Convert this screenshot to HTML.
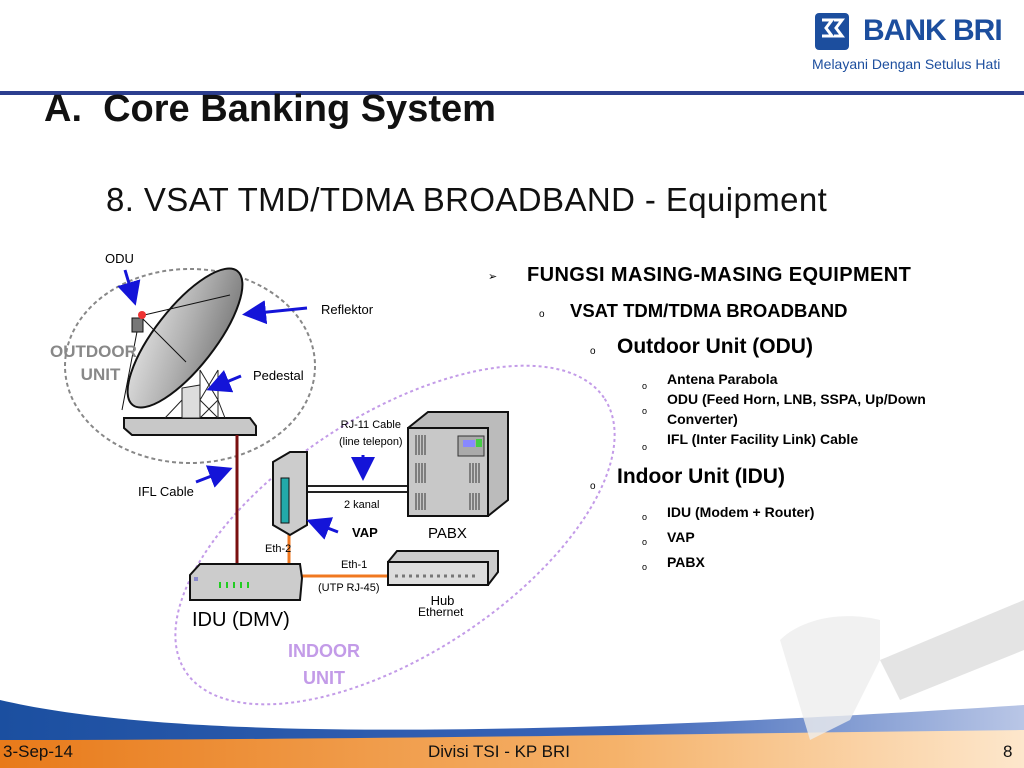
<!DOCTYPE html>
<html><head><meta charset="utf-8"><style>
body{margin:0;width:1024px;height:768px;overflow:hidden;background:#fff;font-family:"Liberation Sans",sans-serif;position:relative}
.t{position:absolute;white-space:nowrap}
.b{font-weight:bold}
</style></head><body>
<svg width="1024" height="768" style="position:absolute;left:0;top:0">
<defs>
<linearGradient id="dish" x1="0" y1="0" x2="1" y2="1"><stop offset="0" stop-color="#e8e8e8"/><stop offset="0.5" stop-color="#b0b0b0"/><stop offset="1" stop-color="#707070"/></linearGradient>
<linearGradient id="or" x1="0" y1="0" x2="1" y2="0"><stop offset="0" stop-color="#e87a1a"/><stop offset="0.6" stop-color="#f5b26a"/><stop offset="1" stop-color="#fde7cc"/></linearGradient>
<linearGradient id="bl" x1="0" y1="0" x2="1" y2="0"><stop offset="0" stop-color="#1b4fa0"/><stop offset="0.6" stop-color="#3a64b8"/><stop offset="1" stop-color="#b9c6e6"/></linearGradient>
<marker id="ah" markerWidth="8" markerHeight="8" refX="6" refY="4" orient="auto"><path d="M0,0L8,4L0,8z" fill="#1414d8"/></marker>
</defs>
<rect x="0" y="91" width="1024" height="4" fill="#2c3e8f"/>
<rect x="815" y="13" width="34" height="37" rx="4" fill="#1c4e9e"/>
<path d="M822,20 h10 l-6,8 l6,8 h-10 M834,20 h8 l-6,8 l6,8 h-8" stroke="#fff" stroke-width="3" fill="none"/>
<ellipse cx="190" cy="366" rx="125" ry="97" fill="none" stroke="#888" stroke-width="2" stroke-dasharray="4,3"/>
<ellipse cx="395" cy="535" rx="250" ry="120" transform="rotate(-33 395 535)" fill="none" stroke="#c39be8" stroke-width="2" stroke-dasharray="3,3"/>
<path d="M124,418 L250,418 L256,426 L256,435 L132,435 L124,428z" fill="#c8c8c8" stroke="#111" stroke-width="2"/>
<path d="M182,418 L182,388 L200,385 L200,418z" fill="#ddd" stroke="#222"/>
<path d="M200,370 L200,418 M218,370 L218,418 M200,370 L218,400 M218,370 L200,400 M200,400 L218,418 M218,400 L200,418 M165,418 L182,400 M225,418 L218,400" stroke="#222" fill="none"/>
<ellipse cx="185" cy="338" rx="85" ry="30" transform="rotate(-52 185 338)" fill="url(#dish)" stroke="#111" stroke-width="2"/>
<path d="M140,316 L230,295 M140,316 L186,362 M140,316 L122,410" stroke="#111" fill="none"/>
<rect x="132" y="318" width="11" height="14" fill="#777" stroke="#111"/>
<circle cx="142" cy="315" r="4" fill="#e33"/>
<line x1="237" y1="435" x2="237" y2="563" stroke="#7a1010" stroke-width="3"/>
<line x1="289" y1="530" x2="289" y2="565" stroke="#f07820" stroke-width="3"/>
<line x1="302" y1="576" x2="403" y2="576" stroke="#f07820" stroke-width="3"/>
<path d="M306,486 L408,486 M306,492 L408,492" stroke="#222" stroke-width="2"/>
<path d="M273,462 L290,452 L307,452 L307,525 L290,535 L273,525z" fill="#ccc" stroke="#111" stroke-width="2"/>
<rect x="281" y="478" width="8" height="45" fill="#2aa" stroke="#111"/>
<path d="M408,428 L428,412 L508,412 L508,500 L488,516 L408,516z" fill="#bbb" stroke="#111" stroke-width="2"/>
<rect x="408" y="428" width="80" height="88" fill="#c8c8c8" stroke="#111" stroke-width="2"/>
<rect x="458" y="436" width="26" height="20" fill="#aaa" stroke="#333"/>
<rect x="463" y="440" width="12" height="7" fill="#88f"/><rect x="476" y="439" width="6" height="8" fill="#4c4"/>
<g stroke="#333"><path d="M416,435v20M419,435v20M422,435v20M425,435v20M416,463v20M419,463v20M422,463v20M425,463v20M416,493v17M419,493v17M422,493v17M425,493v17M470,463v20M473,463v20M476,463v20M479,463v20M470,493v17M473,493v17M476,493v17M479,493v17"/></g>
<path d="M190,575 L200,564 L300,564 L302,578 L300,600 L190,600z" fill="#ccc" stroke="#111" stroke-width="2"/>
<rect x="194" y="577" width="4" height="4" fill="#88c"/>
<path d="M220,582v6M227,582v6M234,582v6M241,582v6M248,582v6" stroke="#2c2" stroke-width="2"/>
<path d="M388,562 L397,551 L498,551 L498,572 L488,585 L388,585z" fill="#ccc" stroke="#111" stroke-width="2"/>
<rect x="388" y="562" width="100" height="23" fill="#ddd" stroke="#111" stroke-width="2"/>
<path d="M395,576 h80" stroke="#777" stroke-width="3" stroke-dasharray="3,4"/>
<g stroke="#1414d8" stroke-width="3" marker-end="url(#ah)">
<line x1="125" y1="270" x2="134" y2="300"/>
<line x1="307" y1="308" x2="248" y2="314"/>
<line x1="241" y1="376" x2="212" y2="388"/>
<line x1="196" y1="482" x2="227" y2="470"/>
<line x1="363" y1="455" x2="363" y2="475"/>
<line x1="338" y1="532" x2="312" y2="522"/>
</g>
<path d="M0,700 C150,735 450,742 1024,705 L1024,768 L0,768z" fill="url(#bl)"/>
<path d="M0,740 C300,740 600,735 1024,730 L1024,768 L0,768z" fill="url(#or)"/>
<path d="M780,640 C800,620 840,610 880,620 L880,660 L850,720 L810,740 Z" fill="#eee" opacity="0.8"/>
<path d="M880,660 L1024,600 L1024,650 L900,700z" fill="#ddd" opacity="0.8"/>
</svg>
<div class="t b" style="left:863px;top:14px;font-size:30px;color:#1c4e9e;letter-spacing:-1px">BANK BRI</div>
<div class="t" style="left:812px;top:56px;font-size:14px;color:#1c4e9e">Melayani Dengan Setulus Hati</div>
<div class="t b" style="left:44px;top:88px;font-size:38px;color:#111">A.&nbsp; Core Banking System</div>
<div class="t" style="left:106px;top:181px;font-size:33px;color:#111;letter-spacing:0.4px">8. VSAT TMD/TDMA BROADBAND - Equipment</div>
<div class="t" style="left:105px;top:251px;font-size:13px">ODU</div>
<div class="t" style="left:321px;top:302px;font-size:13px">Reflektor</div>
<div class="t" style="left:253px;top:368px;font-size:13px">Pedestal</div>
<div class="t b" style="left:50px;top:340px;font-size:17px;color:#888;text-align:center;line-height:23px">OUTDOOR<br>&nbsp;&nbsp;&nbsp;UNIT</div>
<div class="t" style="left:339px;top:417px;font-size:11px;text-align:center;line-height:17px">RJ-11 Cable<br>(line telepon)</div>
<div class="t" style="left:138px;top:484px;font-size:13px">IFL Cable</div>
<div class="t" style="left:344px;top:499px;font-size:11px">2 kanal</div>
<div class="t b" style="left:352px;top:525px;font-size:13px">VAP</div>
<div class="t" style="left:428px;top:525px;font-size:15px">PABX</div>
<div class="t" style="left:265px;top:543px;font-size:11px">Eth-2</div>
<div class="t" style="left:341px;top:559px;font-size:11px">Eth-1</div>
<div class="t" style="left:318px;top:582px;font-size:11px">(UTP RJ-45)</div>
<div class="t" style="left:418px;top:595px;font-size:13px;text-align:center;line-height:11px">&nbsp;Hub<br><span style="font-size:12px">Ethernet</span></div>
<div class="t" style="left:192px;top:609px;font-size:20px">IDU (DMV)</div>
<div class="t b" style="left:288px;top:638px;font-size:18px;color:#c39be8;text-align:center;line-height:27px">INDOOR<br>UNIT</div>
<div class="t" style="left:488px;top:270px;font-size:11px">➢</div>
<div class="t b" style="left:527px;top:264px;font-size:20px;letter-spacing:0.4px">FUNGSI MASING-MASING EQUIPMENT</div>
<div class="t" style="left:539px;top:309px;font-size:10px">o</div>
<div class="t b" style="left:570px;top:300px;font-size:18.5px">VSAT TDM/TDMA BROADBAND</div>
<div class="t" style="left:590px;top:346px;font-size:10px">o</div>
<div class="t b" style="left:617px;top:335px;font-size:21px">Outdoor Unit (ODU)</div>
<div class="t b" style="left:667px;top:369px;font-size:14px;line-height:20px">Antena Parabola<br>ODU (Feed Horn, LNB, SSPA, Up/Down<br>Converter)<br>IFL (Inter Facility Link) Cable</div>
<div class="t" style="left:642px;top:374px;font-size:9px;line-height:25px">o<br>o<br><br></div>
<div class="t" style="left:642px;top:442px;font-size:9px">o</div>
<div class="t" style="left:590px;top:481px;font-size:10px">o</div>
<div class="t b" style="left:617px;top:465px;font-size:21px">Indoor Unit (IDU)</div>
<div class="t b" style="left:667px;top:500px;font-size:14px;line-height:25px">IDU (Modem + Router)<br>VAP<br>PABX</div>
<div class="t" style="left:642px;top:505px;font-size:9px;line-height:25px">o<br>o<br>o</div>
<div class="t" style="left:3px;top:742px;font-size:17px;color:#111">3-Sep-14</div>
<div class="t" style="left:428px;top:742px;font-size:17px;color:#111">Divisi TSI - KP BRI</div>
<div class="t" style="left:1003px;top:742px;font-size:17px;color:#111">8</div>
</body></html>
